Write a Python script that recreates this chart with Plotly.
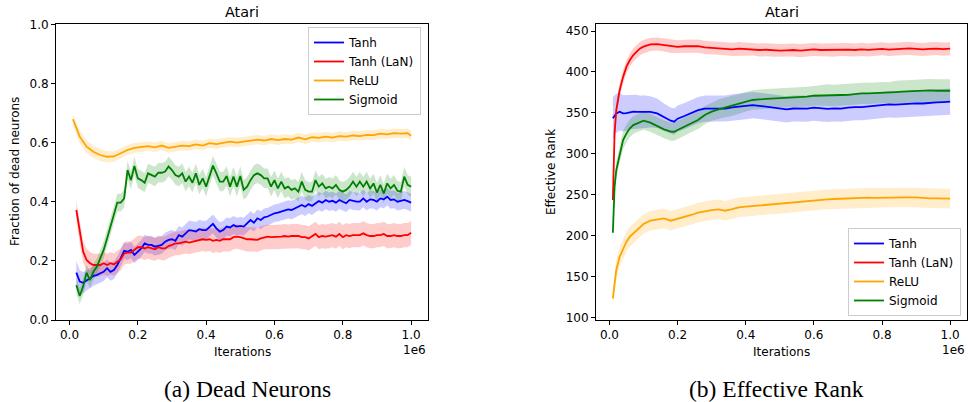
import plotly.graph_objects as go

# ---------------- data: (a) Dead neurons ----------------
iters_dead = list(range(20000, 1000001, 10000))          # 0.02e6 .. 1.0e6
iters_relu = [10000] + list(range(30000, 1000001, 20000)) + [1000000]

dead_tanh = [
    .160, .130, .126, .135, .141, .149, .152, .158, .163, .175,
    .163, .169, .186, .209, .234, .231, .237, .220, .231, .242,
    .259, .254, .254, .248, .251, .254, .265, .271, .273, .268,
    .287, .282, .293, .304, .302, .299, .307, .304, .304, .316,
    .325, .310, .299, .304, .316, .313, .321, .316, .318, .316,
    .327, .338, .329, .344, .338, .347, .350, .355, .361, .363,
    .366, .370, .374, .372, .378, .383, .389, .383, .392, .386,
    .395, .402, .397, .406, .400, .403, .397, .406, .400, .395,
    .406, .402, .400, .400, .411, .400, .408, .406, .400, .411,
    .408, .417, .406, .408, .400, .403, .406, .402, .397]
dead_tanh_err = [
    .040, .038, .036, .035, .034, .033, .032, .032, .031, .030,
    .030, .030, .029, .029, .028, .028, .028, .028, .028, .028,
    .029, .029, .030, .030, .030, .030, .030, .030, .031, .031,
    .031, .031, .032, .032, .032, .032, .032, .032, .032, .032,
    .032, .032, .032, .031, .031, .031, .031, .030, .030, .030,
    .030, .030, .030, .030, .030, .030, .030, .030, .030, .030,
    .031, .031, .031, .031, .031, .031, .031, .031, .031, .031,
    .031, .031, .031, .031, .031, .031, .031, .031, .030, .030,
    .030, .030, .030, .030, .030, .030, .030, .030, .030, .030,
    .030, .030, .030, .030, .030, .030, .030, .030, .030]

dead_lan = [
    .372, .293, .231, .203, .192, .186, .186, .186, .192, .186,
    .192, .188, .197, .205, .225, .228, .228, .237, .246, .246,
    .242, .246, .242, .239, .246, .242, .242, .250, .254, .259,
    .259, .262, .265, .262, .265, .268, .271, .273, .271, .273,
    .268, .271, .268, .273, .273, .273, .280, .282, .280, .276,
    .273, .273, .273, .271, .276, .280, .282, .280, .280, .280,
    .282, .284, .282, .284, .284, .284, .280, .280, .276, .284,
    .291, .280, .284, .282, .284, .287, .282, .291, .280, .287,
    .284, .287, .287, .287, .293, .287, .284, .284, .287, .287,
    .291, .284, .284, .287, .284, .284, .287, .287, .295]
dead_lan_err = [
    .030, .034, .036, .038, .038, .038, .038, .038, .038, .038,
    .038, .038, .038, .038, .038, .038, .038, .038, .039, .039,
    .039, .039, .039, .039, .040, .040, .040, .040, .040, .040,
    .040, .040, .040, .040, .040, .040, .040, .040, .040, .040,
    .041, .041, .041, .041, .041, .041, .041, .041, .041, .041,
    .041, .041, .041, .041, .041, .041, .041, .041, .041, .041,
    .041, .041, .041, .041, .041, .041, .041, .041, .041, .041,
    .041, .041, .041, .041, .041, .041, .041, .041, .041, .041,
    .041, .041, .041, .041, .041, .041, .041, .041, .041, .041,
    .041, .041, .041, .041, .041, .041, .041, .041, .041]

dead_relu = [
    .679, .620, .586, .569, .558, .552, .553, .564, .575, .582,
    .585, .588, .584, .590, .582, .586, .590, .588, .594, .590,
    .598, .595, .600, .603, .600, .604, .606, .610, .607, .612,
    .608, .612, .610, .617, .611, .618, .616, .620, .617, .622,
    .620, .624, .622, .626, .625, .630, .628, .632, .630, .632,
    .623]
dead_relu_err = [
    .018, .022, .022, .021, .020, .019, .018, .018, .017, .017,
    .017, .016, .016, .016, .016, .016, .016, .016, .016, .016,
    .016, .016, .016, .016, .016, .016, .016, .016, .016, .016,
    .016, .016, .016, .016, .016, .016, .016, .016, .016, .016,
    .016, .016, .016, .016, .016, .016, .016, .016, .016, .016,
    .016]

dead_sig = [
    .118, .081, .113, .160, .135, .163, .180, .209, .237, .276,
    .316, .355, .397, .397, .411, .507, .473, .521, .479, .473,
    .464, .496, .490, .485, .498, .498, .502, .519, .507, .490,
    .485, .496, .468, .485, .464, .496, .457, .479, .451, .490,
    .522, .496, .468, .468, .487, .451, .485, .451, .487, .440,
    .451, .473, .490, .496, .490, .479, .479, .451, .473, .445,
    .468, .445, .451, .440, .445, .434, .468, .440, .434, .434,
    .473, .451, .462, .445, .451, .445, .457, .440, .434, .440,
    .451, .468, .451, .468, .451, .468, .445, .462, .431, .457,
    .428, .462, .445, .457, .437, .434, .485, .457, .451]
dead_sig_err = [
    .028, .028, .028, .028, .028, .028, .028, .028, .029, .029,
    .029, .029, .030, .030, .030, .031, .031, .031, .032, .032,
    .032, .032, .033, .033, .033, .033, .033, .033, .033, .033,
    .033, .033, .033, .033, .033, .033, .033, .033, .033, .033,
    .033, .033, .033, .033, .033, .033, .033, .033, .033, .033,
    .033, .033, .033, .033, .033, .033, .033, .033, .033, .033,
    .033, .033, .033, .033, .033, .033, .033, .033, .033, .033,
    .033, .033, .033, .033, .033, .033, .033, .033, .033, .033,
    .033, .033, .033, .033, .033, .033, .033, .033, .033, .033,
    .033, .033, .033, .033, .033, .033, .033, .033, .033]

# ---------------- data: (b) Effective rank ----------------
iters_rank = ([10000, 15000, 20000, 30000, 40000, 50000, 60000, 70000, 80000, 90000, 100000,
               120000, 140000, 160000, 180000, 190000]
              + list(range(200000, 1000001, 20000)))

rank_tanh = [
    343.4, 347.0, 349.5, 351.5, 349.5, 349.8, 350.7, 351.5, 351.2, 351.0, 351.5,
    351.3, 349.5, 344.6, 340.5, 339.3,
    343.0, 346.2, 349.5, 353.5, 355.2, 355.0, 355.6, 355.4, 356.8, 357.6,
    358.4, 359.6, 358.6, 357.6, 356.8, 355.6, 354.4, 355.4, 355.6, 355.2,
    356.4, 355.4, 355.0, 355.6, 355.3, 356.4, 357.2, 357.0, 358.0, 358.2,
    359.6, 360.5, 360.2, 360.9, 360.7, 361.7, 361.5, 362.4, 362.8, 363.2,
    363.7]
rank_tanh_err = [
    26, 25, 24, 23, 22, 22, 21, 21, 21, 20, 20,
    19, 18, 17, 16, 16,
    16, 16, 16, 16, 16, 16, 16, 16, 16, 16,
    16, 16, 16, 16, 16, 16, 16, 16, 16, 16,
    16, 16, 16, 16, 16, 16, 16, 16, 16, 16,
    16, 16, 16, 16, 16, 16, 16, 16, 16, 16,
    16]

rank_lan = [
    243.7, 325.0, 353.5, 378.0, 394.0, 406.5, 414.6, 420.7, 424.8, 428.8, 430.9,
    433.7, 434.1, 432.9, 431.2, 430.9,
    430.6, 431.4, 431.2, 431.5, 430.0, 429.4, 428.8, 428.3, 427.6, 428.5,
    427.8, 428.0, 426.8, 427.1, 426.5, 426.0, 426.4, 426.8, 426.1, 426.9,
    427.5, 426.8, 427.0, 426.6, 427.6, 427.3, 426.8, 427.6, 426.9, 427.7,
    428.3, 427.4, 427.8, 428.4, 428.8, 428.1, 427.5, 428.2, 428.6, 427.9,
    428.4]
rank_lan_err = [
    10, 9, 9, 8, 8, 8, 8, 8, 8, 8, 8,
    8, 8, 8, 8, 8,
    8, 8, 8, 8, 8, 8, 8, 8, 8, 8,
    8, 8, 8, 8, 8, 8, 8, 8, 8, 8,
    8, 8, 8, 8, 8, 8, 8, 8, 8, 8,
    8, 8, 8, 8, 8, 8, 8, 8, 8, 8,
    8]

rank_relu = [
    123.6, 142.0, 158.2, 174.5, 184.6, 192.8, 198.9, 203.0, 207.0, 211.0, 214.4,
    218.4, 220.0, 221.3, 218.4, 219.5,
    221.3, 223.3, 225.4, 228.2, 230.2, 231.4, 232.3, 230.6, 232.5, 234.7,
    235.5, 236.3, 237.1, 237.9, 238.2, 238.8, 239.6, 240.4, 241.2, 242.0,
    242.8, 243.7, 244.5, 244.9, 245.3, 245.6, 245.5, 246.0, 246.5, 246.4,
    246.6, 246.9, 247.0, 247.3, 246.9, 246.8, 246.1, 245.7, 245.8, 245.3,
    245.3]
rank_relu_err = [
    10, 11, 12, 12, 12, 12, 12, 12, 12, 12, 12,
    12, 12, 12, 12, 12,
    12, 12, 12, 12, 12, 12, 12, 12, 12, 12,
    12, 12, 12, 12, 12, 12, 12, 12, 12, 12,
    12, 12, 12, 12, 12, 12, 12, 12, 12, 12,
    12, 12, 12, 12, 12, 12, 12, 12, 12, 12,
    12]

rank_sig = [
    203.8, 260.0, 280.0, 300.6, 316.9, 325.0, 331.2, 335.2, 337.3, 339.3, 340.5,
    338.1, 334.0, 330.0, 327.1, 327.0,
    329.1, 333.2, 337.3, 341.3, 347.4, 351.5, 354.4, 356.8, 358.4, 360.9,
    363.7, 365.8, 366.6, 367.0, 367.8, 368.6, 368.9, 369.0, 369.8, 369.9,
    371.0, 371.4, 371.9, 371.5, 371.9, 372.0, 373.1, 373.9, 373.8, 374.0,
    374.7, 374.6, 375.4, 375.9, 376.3, 377.1, 377.0, 377.5, 377.1, 377.0,
    377.1]
rank_sig_err = [
    11, 11, 11, 11, 11, 11, 11, 11, 11, 11, 11,
    11, 11, 11, 11, 11,
    11, 11, 11, 11, 11, 11, 12, 12, 12, 12,
    12, 12, 12, 12, 12, 12, 12, 12, 12, 12,
    12, 13, 13, 13, 13, 13, 13, 13, 13, 13,
    13, 13, 14, 14, 14, 14, 14, 14, 14, 14,
    14]

# ---------------- figure ----------------
W, H = 968, 402
FONT = "DejaVu Sans"
COLORS = {"Tanh": "#0000ff", "Tanh (LaN)": "#ff0000", "ReLU": "#ffa500", "Sigmoid": "#008000"}
FILLS = {"Tanh": "rgba(0,0,255,0.2)", "Tanh (LaN)": "rgba(255,0,0,0.2)",
         "ReLU": "rgba(255,165,0,0.2)", "Sigmoid": "rgba(0,128,0,0.2)"}

def px_x(p):
    return p / W

def px_y(p):
    return 1 - p / H

fig = go.Figure()

panels = [
    ("x", "y", "legend", [
        ("Tanh", iters_dead, dead_tanh, dead_tanh_err),
        ("Tanh (LaN)", iters_dead, dead_lan, dead_lan_err),
        ("ReLU", iters_relu, dead_relu, dead_relu_err),
        ("Sigmoid", iters_dead, dead_sig, dead_sig_err),
    ]),
    ("x2", "y2", "legend2", [
        ("Tanh", iters_rank, rank_tanh, rank_tanh_err),
        ("Tanh (LaN)", iters_rank, rank_lan, rank_lan_err),
        ("ReLU", iters_rank, rank_relu, rank_relu_err),
        ("Sigmoid", iters_rank, rank_sig, rank_sig_err),
    ]),
]

for xa, ya, leg, series in panels:
    for name, xs, ys, es in series:
        n = min(len(xs), len(ys), len(es))
        xs, ys, es = xs[:n], ys[:n], es[:n]
        upper = [v + e for v, e in zip(ys, es)]
        lower = [v - e for v, e in zip(ys, es)]
        fig.add_trace(go.Scatter(
            x=list(xs) + list(xs[::-1]), y=upper + lower[::-1],
            fill="toself", fillcolor=FILLS[name], line=dict(width=0),
            mode="lines", hoverinfo="skip", showlegend=False,
            xaxis=xa, yaxis=ya))
    for name, xs, ys, es in series:
        n = min(len(xs), len(ys))
        fig.add_trace(go.Scatter(
            x=xs[:n], y=ys[:n], mode="lines", name=name,
            line=dict(color=COLORS[name], width=1.8),
            xaxis=xa, yaxis=ya, legend=leg))

axis_common = dict(showline=True, mirror=True, linecolor="black", linewidth=1,
                   ticks="outside", ticklen=4, tickwidth=1, tickcolor="black",
                   showgrid=False, zeroline=False, automargin=False,
                   tickfont=dict(family=FONT, size=12, color="black"))

xticks = [0, 200000, 400000, 600000, 800000, 1000000]
xtext = ["0.0", "0.2", "0.4", "0.6", "0.8", "1.0"]
xrange = [-39500, 1049500]

L1, R1 = 56, 428
L2, R2 = 596, 967
TOP, BOT = 24.3, 320

leg_common = dict(bgcolor="rgba(255,255,255,0.8)", bordercolor="#cccccc", borderwidth=1,
                  font=dict(family=FONT, size=12, color="black"),
                  tracegroupgap=0, itemwidth=30)

fig.update_layout(
    width=W, height=H, margin=dict(l=0, r=0, t=0, b=0, autoexpand=False),
    paper_bgcolor="white", plot_bgcolor="white",
    font=dict(family=FONT, size=12, color="black"),
    xaxis=dict(domain=[px_x(L1), px_x(R1)], range=xrange, tickvals=xticks, ticktext=xtext,
               anchor="y", **axis_common),
    yaxis=dict(domain=[px_y(BOT), px_y(TOP)], range=[0, 1],
               tickvals=[0, 0.2, 0.4, 0.6, 0.8, 1.0],
               ticktext=["0.0", "0.2", "0.4", "0.6", "0.8", "1.0"],
               anchor="x", **axis_common),
    xaxis2=dict(domain=[px_x(L2), px_x(R2)], range=xrange, tickvals=xticks, ticktext=xtext,
                anchor="y2", **axis_common),
    yaxis2=dict(domain=[px_y(BOT), px_y(TOP)], range=[97.2, 458.2],
                tickvals=[100, 150, 200, 250, 300, 350, 400, 450],
                anchor="x2", **axis_common),
    legend=dict(x=px_x(308), y=px_y(27), xanchor="left", yanchor="top", **leg_common),
    legend2=dict(x=px_x(961), y=px_y(316), xanchor="right", yanchor="bottom", **leg_common),
)

ann = []
def add_text(text, x, y, size=12, family=FONT, xanchor="center", yanchor="middle", angle=0):
    ann.append(dict(text=text, x=px_x(x), y=px_y(y), xref="paper", yref="paper",
                    showarrow=False, xanchor=xanchor, yanchor=yanchor, textangle=angle,
                    font=dict(family=family, size=size, color="black")))

add_text("Atari", (L1 + R1) / 2, 11.7, size=14.4)
add_text("Atari", (L2 + R2) / 2, 11.7, size=14.4)
add_text("Iterations", (L1 + R1) / 2, 352)
add_text("Iterations", (L2 + R2) / 2, 352)
add_text("1e6", R1, 350, xanchor="right")
add_text("1e6", R2, 350, xanchor="right")
add_text("Fraction of dead neurons", 15, 172, angle=-90)
add_text("Effective Rank", 551, 172, angle=-90)
add_text("(a) Dead Neurons", 247, 389, size=23.5, family="Liberation Serif")
add_text("(b) Effective Rank", 776, 389, size=23.5, family="Liberation Serif")
fig.update_layout(annotations=ann)

fig.write_html("out.html", config={"displayModeBar": False},
               post_script="document.body.style.margin='0px';document.body.style.overflow='hidden';")
